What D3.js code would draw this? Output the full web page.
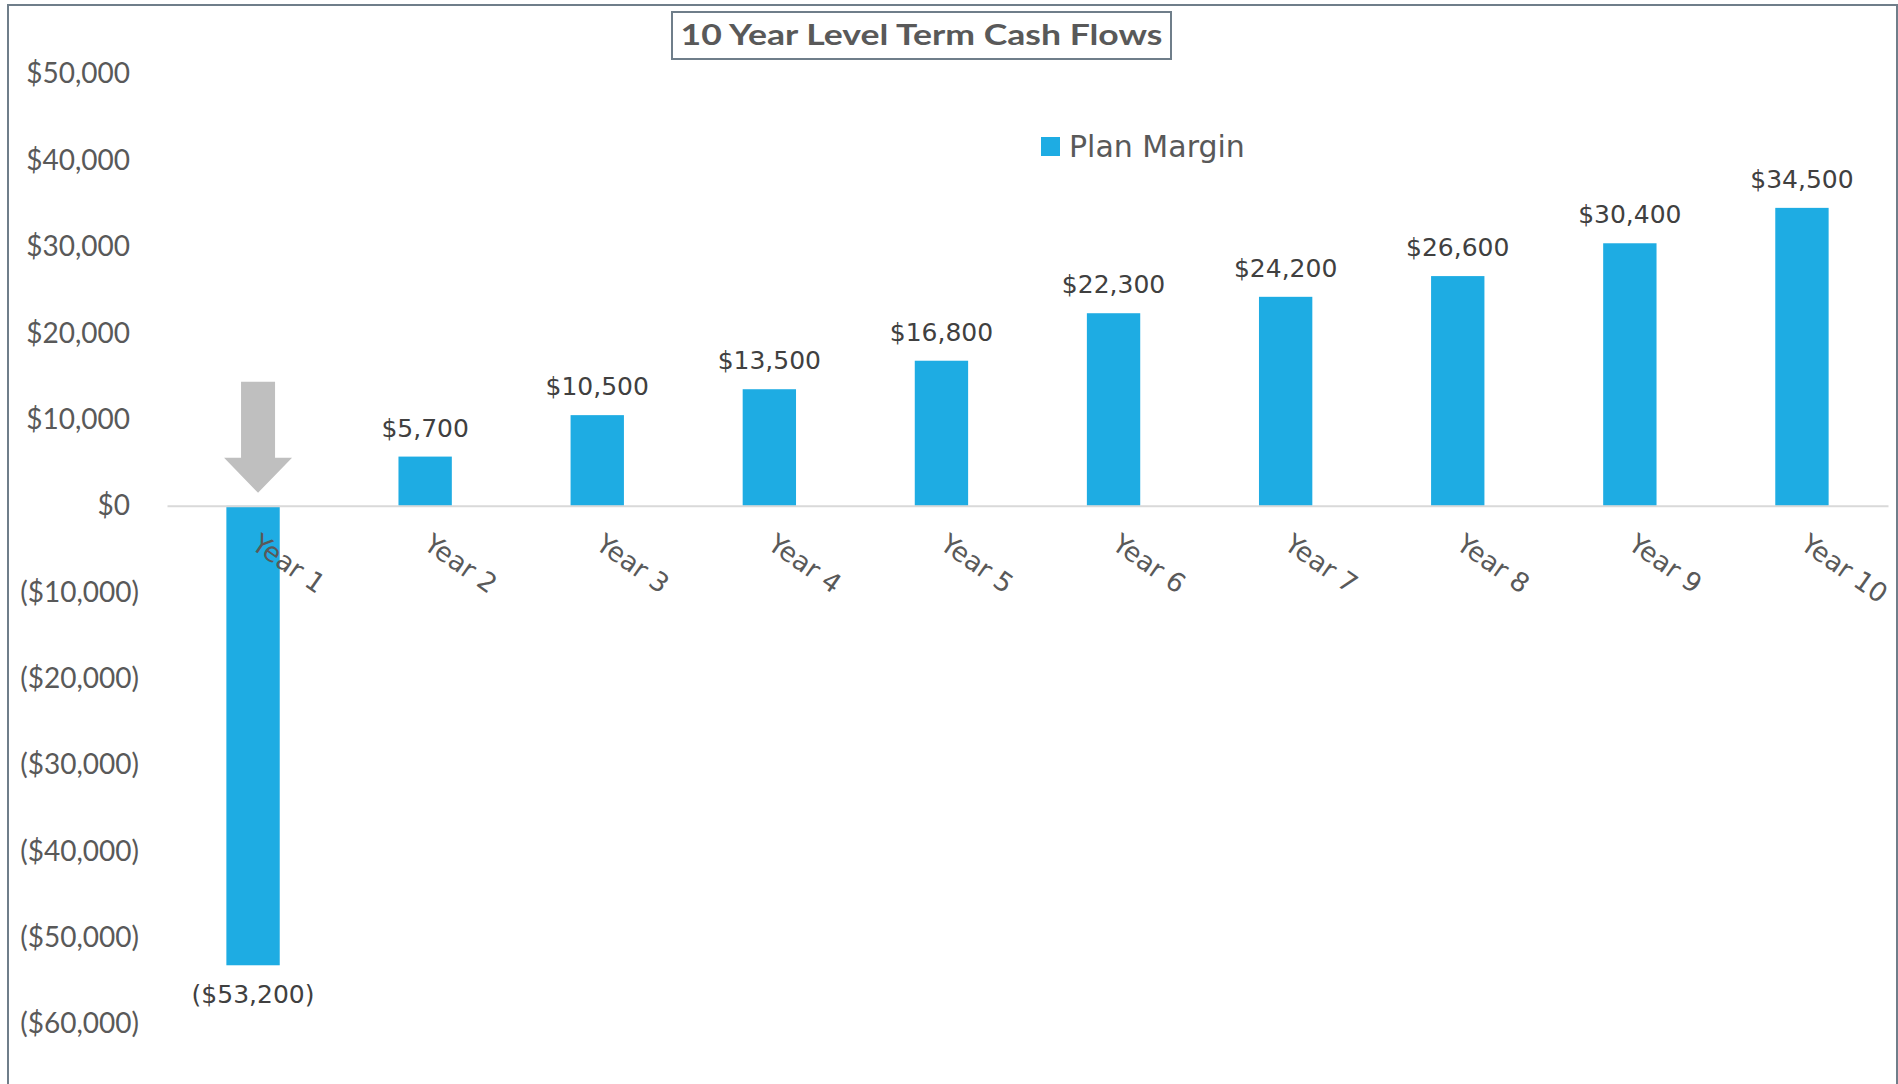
<!DOCTYPE html>
<html>
<head>
<meta charset="utf-8">
<script src="https://cdn.jsdelivr.net/npm/d3@7"></script>
<style>
  html, body { margin: 0; padding: 0; background: #ffffff; }
  svg { display: block; }
</style>
</head>
<body>
<div id="chart"></div>
<script>
// Cash flow data for the 10 year level term plan
const categories = ["Year 1", "Year 2", "Year 3", "Year 4", "Year 5",
                    "Year 6", "Year 7", "Year 8", "Year 9", "Year 10"];
const planMargin = [-53200, 5700, 10500, 13500, 16800, 22300, 24200, 26600, 30400, 34500];
const yTicks = [50000, 40000, 30000, 20000, 10000, 0,
                -10000, -20000, -30000, -40000, -50000, -60000];
const seriesName = "Plan Margin";
const titleText = "10 Year Level Term Cash Flows";

const W = 1898, H = 1084;
const barColor = "#1eace3";
const tickColor = "#595959";
const labelColor = "#404040";
const frameColor = "#6f7e8a";

const svg = d3.select("#chart").append("svg")
  .attr("width", W).attr("height", H);

// chart frame
svg.append("rect")
  .attr("x", 8).attr("y", 5)
  .attr("width", 1889).attr("height", 1100)
  .attr("fill", "#ffffff")
  .attr("stroke", frameColor).attr("stroke-width", 2);

const x = d3.scaleBand()
  .domain(categories)
  .range([167, 1888])
  .paddingInner(0.69)
  .paddingOuter(0.345);

const y = d3.scaleLinear()
  .domain([-60000, 50000])
  .range([1024, 74]);

const fmtNum = d3.format(",");
const money = v => v < 0 ? "($" + fmtNum(-v) + ")" : "$" + fmtNum(v);

// value axis labels (right aligned with room for the closing parenthesis)
const yAxis = svg.append("g")
  .attr("transform", "translate(139,0)")
  .call(d3.axisLeft(y).tickValues(yTicks).tickFormat(money).tickSize(0).tickPadding(0));
yAxis.select(".domain").remove();
yAxis.selectAll("text")
  .attr("font-family", "Lato, 'Open Sans', sans-serif")
  .attr("font-size", 28)
  .attr("fill", tickColor)
  .attr("dx", d => d < 0 ? 0 : -9);

// bars
svg.append("g").selectAll("rect")
  .data(planMargin)
  .join("rect")
  .attr("x", (d, i) => x(categories[i]))
  .attr("width", x.bandwidth())
  .attr("y", d => y(Math.max(0, d)))
  .attr("height", d => Math.abs(y(d) - y(0)))
  .attr("fill", barColor);

// category axis along the zero line
const xAxis = svg.append("g")
  .attr("transform", `translate(0,${y(0)})`)
  .call(d3.axisBottom(x).tickSize(0).tickSizeOuter(0));
xAxis.select(".domain")
  .attr("stroke", "#d9d9d9")
  .attr("stroke-width", 2);
xAxis.selectAll(".tick text")
  .attr("font-family", "'DejaVu Sans', sans-serif")
  .attr("font-size", 26.5)
  .attr("fill", tickColor)
  .attr("text-anchor", "start")
  .attr("y", 0).attr("dy", 0)
  .attr("transform", "translate(-3,42) rotate(35)");

// value labels
svg.append("g").selectAll("text")
  .data(planMargin)
  .join("text")
  .attr("x", (d, i) => x(categories[i]) + x.bandwidth() / 2)
  .attr("y", d => d >= 0 ? y(d) - 20 : y(d) + 38)
  .attr("text-anchor", "middle")
  .attr("font-family", "'DejaVu Sans', sans-serif")
  .attr("font-size", 25)
  .attr("fill", labelColor)
  .text(d => money(d));

// grey callout arrow pointing down at the first year
const ax = x(categories[0]) + x.bandwidth() / 2 + 5;
const tipY = y(0) - 13;
const arrow = [
  [ax - 17, tipY - 111], [ax + 17, tipY - 111], [ax + 17, tipY - 35],
  [ax + 34, tipY - 35], [ax, tipY], [ax - 34, tipY - 35], [ax - 17, tipY - 35]
];
svg.append("polygon")
  .attr("points", arrow.map(p => p.join(",")).join(" "))
  .attr("fill", "#bfbfbf");

// legend
const legend = svg.append("g").attr("transform", "translate(1041,137)");
legend.append("rect")
  .attr("width", 19).attr("height", 19)
  .attr("fill", barColor);
legend.append("text")
  .attr("x", 28).attr("y", 20)
  .attr("font-family", "'DejaVu Sans', sans-serif")
  .attr("font-size", 30)
  .attr("fill", tickColor)
  .text(seriesName);

// boxed title
svg.append("rect")
  .attr("x", 672).attr("y", 12)
  .attr("width", 499).attr("height", 47)
  .attr("fill", "#ffffff")
  .attr("stroke", frameColor).attr("stroke-width", 2);
svg.append("text")
  .attr("x", 921.5).attr("y", 45)
  .attr("text-anchor", "middle")
  .attr("font-family", "Lato, sans-serif")
  .attr("font-weight", "bold")
  .attr("font-size", 29)
  .attr("fill", tickColor)
  .attr("textLength", 482)
  .attr("lengthAdjust", "spacingAndGlyphs")
  .text(titleText);
</script>
</body>
</html>
